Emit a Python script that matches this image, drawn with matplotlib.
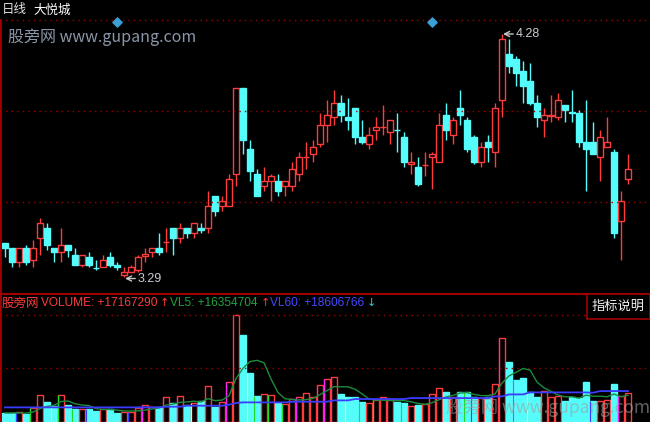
import numpy as np
import pandas as pd
import matplotlib
matplotlib.use('Agg')
import matplotlib.pyplot as plt
from matplotlib.patches import Rectangle
from matplotlib.transforms import blended_transform_factory

plt.rcParams['font.family'] = ['Noto Sans CJK SC', 'DejaVu Sans']

# --- DATA (daily candles) ---
opens = [3.43, 3.41, 3.35, 3.41, 3.36, 3.45, 3.49, 3.41, 3.39, 3.42,
         3.38, 3.34, 3.37, 3.328, 3.33, 3.37, 3.34, 3.30, 3.31, 3.32,
         3.376, 3.39, 3.41, 3.432, 3.49, 3.45, 3.49, 3.47, 3.49, 3.49,
         3.62, 3.58, 3.58, 3.71, 4.06, 3.81, 3.71, 3.66, 3.68, 3.68,
         3.66, 3.66, 3.71, 3.778, 3.79, 3.83, 3.91, 3.94, 4.00, 3.94,
         3.98, 3.86, 3.83, 3.89, 3.900, 3.88, 3.890, 3.86, 3.75, 3.74,
         3.746, 3.78, 3.76, 3.95, 3.87, 3.98, 3.93, 3.86, 3.76, 3.84,
         3.80, 4.01, 4.20, 4.18, 4.13, 4.09, 4.00, 3.93, 3.948, 3.94,
         3.99, 3.962, 3.96, 3.84, 3.84, 3.78, 3.82, 3.80, 3.52, 3.69]
highs = [3.43, 3.41, 3.41, 3.42, 3.44, 3.53, 3.51, 3.41, 3.49, 3.42,
         3.41, 3.38, 3.39, 3.36, 3.38, 3.39, 3.35, 3.33, 3.34, 3.38,
         3.41, 3.41, 3.47, 3.49, 3.49, 3.51, 3.49, 3.51, 3.51, 3.64,
         3.62, 3.62, 3.71, 4.06, 4.06, 3.85, 3.73, 3.74, 3.71, 3.71,
         3.68, 3.76, 3.80, 3.84, 3.85, 3.96, 4.01, 4.05, 4.03, 4.02,
         3.98, 3.93, 3.90, 3.94, 3.99, 3.93, 3.96, 3.88, 3.80, 3.78,
         3.80, 3.80, 3.96, 4.00, 3.94, 4.05, 3.94, 3.87, 3.84, 3.87,
         4.00, 4.28, 4.26, 4.19, 4.17, 4.16, 4.03, 3.98, 4.03, 4.04,
         3.99, 4.05, 3.97, 4.01, 3.92, 3.89, 3.94, 3.81, 3.64, 3.79]
lows = [3.37, 3.33, 3.33, 3.34, 3.33, 3.38, 3.40, 3.35, 3.35, 3.37,
        3.34, 3.33, 3.33, 3.32, 3.33, 3.33, 3.32, 3.29, 3.31, 3.31,
        3.35, 3.37, 3.38, 3.39, 3.38, 3.43, 3.45, 3.45, 3.47, 3.47,
        3.54, 3.56, 3.58, 3.66, 3.79, 3.68, 3.62, 3.64, 3.60, 3.62,
        3.62, 3.64, 3.68, 3.73, 3.76, 3.82, 3.84, 3.91, 3.92, 3.89,
        3.83, 3.83, 3.81, 3.85, 3.87, 3.83, 3.80, 3.74, 3.71, 3.66,
        3.70, 3.65, 3.76, 3.85, 3.83, 3.91, 3.80, 3.75, 3.74, 3.76,
        3.74, 3.94, 4.12, 4.07, 4.00, 3.99, 3.90, 3.86, 3.92, 3.93,
        3.92, 3.92, 3.82, 3.64, 3.79, 3.68, 3.82, 3.45, 3.36, 3.67]
closes = [3.41, 3.35, 3.41, 3.35, 3.41, 3.51, 3.42, 3.39, 3.42, 3.40,
          3.34, 3.38, 3.34, 3.326, 3.36, 3.34, 3.33, 3.31, 3.33, 3.37,
          3.384, 3.41, 3.39, 3.434, 3.45, 3.49, 3.47, 3.51, 3.48, 3.58,
          3.56, 3.60, 3.69, 4.06, 3.85, 3.72, 3.62, 3.68, 3.70, 3.64,
          3.68, 3.73, 3.78, 3.780, 3.82, 3.91, 3.95, 4.00, 3.95, 3.93,
          3.86, 3.84, 3.87, 3.90, 3.902, 3.93, 3.888, 3.76, 3.76, 3.67,
          3.748, 3.79, 3.91, 3.89, 3.93, 3.95, 3.81, 3.76, 3.82, 3.82,
          3.98, 4.26, 4.15, 4.12, 4.07, 4.00, 3.94, 3.95, 3.950, 4.01,
          3.97, 3.960, 3.84, 3.81, 3.79, 3.86, 3.84, 3.47, 3.60, 3.73]

# volume in millions of shares
volume = [5.4, 5.4, 5.8, 4.8, 8.4, 16.0, 11.8, 9.4, 16.0, 10.0,
          7.8, 7.8, 7.8, 6.6, 7.8, 7.8, 5.4, 5.8, 6.2, 8.4,
          10.0, 8.8, 8.8, 14.8, 11.2, 15.4, 10.0, 11.2, 12.4, 21.4,
          9.2, 11.8, 23.8, 64.6, 52.2, 29.4, 15.4, 16.6, 16.0, 11.2,
          10.6, 13.6, 14.8, 17.2, 14.8, 22.0, 25.6, 26.8, 16.6, 14.8,
          14.8, 11.8, 11.2, 13.0, 14.8, 13.6, 11.8, 11.2, 9.4, 10.0,
          10.6, 16.6, 20.2, 17.8, 14.8, 17.8, 17.8, 14.8, 14.2, 14.8,
          22.6, 50.8, 36.0, 25.2, 26.4, 17.8, 14.8, 18.4, 14.8, 15.4,
          12.4, 14.8, 14.2, 23.8, 12.4, 12.4, 13.0, 22.6, 15.4, 17.17]
vl60 = [8.8] * 23 + [9.2] * 3 + [9.8] * 6 + [10.4] + [11.4] + [11.8] * 7 + \
       [12.2] * 6 + [13.0] * 3 + [13.8] * 8 + [14.4] * 12 + [15.4] * 2 + \
       [16.6] * 3 + [17.8] * 9 + [17.6] + [18.6] * 5

# bars whose left edge shows a second colour
accent_idx = [2, 4, 7, 8, 10, 12, 18, 20, 23, 25, 27, 31, 32, 35, 36, 38, 40, 42,
              45, 46, 47, 49, 51, 53, 55, 57, 61, 65, 66, 67, 71, 73, 75, 77, 84, 88]
accent_col = ['b', 'g', 'y', 'g', 'g', 'b', 'b', 'm', 'm', 'm', 'y', 'm', 'm', 'y', 'g', 'g', 'g', 'm',
              'm', 'm', 'm', 'y', 'g', 'g', 'm', 'g', 'm', 'm', 'g', 'b', 'm', 'm', 'y', 'g', 'b', 'm']
event_marks = [16, 61]

# --- STYLE ---
RED = '#ff3c3c'
CYAN = '#54fcfc'
GRID = '#a00000'
ACCENTS = {'b': '#3c3cff', 'g': '#22dd22', 'y': '#ffff40', 'm': '#ff20ff'}
W, H = 650, 422

o = np.array(opens); c = np.array(closes)
hi = np.array(highs); lo = np.array(lows)
vol = np.array(volume)
up = c >= o
n = len(o)
x = np.arange(n)
vl5 = pd.Series(vol).rolling(5, min_periods=1).mean().values

fig = plt.figure(figsize=(W / 100, H / 100), dpi=100, facecolor='black')
ax = fig.add_axes([0, 129 / H, 1, 273 / H], facecolor='black')
axv = fig.add_axes([0, 0, 1, 128 / H], facecolor='black')

xlim = (-5 / 7, (W - 5) / 7)
for a in (ax, axv):
    a.set_xlim(*xlim)
    a.set_xticks([]); a.set_yticks([])
    for s in a.spines.values():
        s.set_visible(False)
    a.spines['left'].set_visible(True)
    a.spines['left'].set_color(GRID)
    a.spines['left'].set_linewidth(2)

# --- price panel ---
ylo, yhi = 3.225, 4.337
ax.set_ylim(ylo, yhi)
for k in (1, 2, 3):
    ax.axhline(ylo + (yhi - ylo) * k / 3, color=GRID, ls=(0, (1, 3)), lw=1, clip_on=False)

bw = 0.72
for i in range(n):
    col = RED if up[i] else CYAN
    b0, b1 = min(o[i], c[i]), max(o[i], c[i])
    ax.vlines(i, lo[i], b0, color=col, lw=1)
    ax.vlines(i, b1, hi[i], color=col, lw=1)
    ax.add_patch(Rectangle((i - bw / 2, b0), bw, b1 - b0,
                           facecolor='black' if up[i] else CYAN, edgecolor=col, lw=1))

imax = int(np.argmax(hi)); imin = int(np.argmin(lo))
ann = dict(arrowstyle='->', color='#c8c8c8', lw=1, shrinkA=0, shrinkB=0)
ax.annotate(f'{hi[imax]:.2f}', xy=(imax + 0.15, hi[imax]), xytext=(imax + 2.0, hi[imax]),
            va='center', ha='left', color='#c8ccd4', fontsize=9, family='Liberation Sans',
            arrowprops=ann)
ax.annotate(f'{lo[imin]:.2f}', xy=(imin + 0.15, lo[imin] - 0.006), xytext=(imin + 2.0, lo[imin] - 0.006),
            va='center', ha='left', color='#c8ccd4', fontsize=9, family='Liberation Sans',
            arrowprops=ann)

tr = blended_transform_factory(ax.transData, ax.transAxes)
ax.scatter(event_marks, [0.992] * len(event_marks), marker='D', s=22, color='#3aa0d8',
           transform=tr, clip_on=False, zorder=5)

fig.text(2 / W, 1 - 10 / H, '日线', color='#e0e0e0', fontsize=9, va='center')
fig.text(33 / W, 1 - 10 / H, '大悦城', color='white', fontsize=9, va='center')
fig.text(8 / W, 1 - 37 / H, '股旁网 www.gupang.com', color='#8a96a8', fontsize=11.5, va='center')

# --- volume panel ---
axv.set_ylim(0, 77)
axv.spines['top'].set_visible(True)
axv.spines['top'].set_color(GRID)
axv.spines['top'].set_linewidth(1.5)
for lvl in (vol.max(), vol.max() / 2):
    axv.axhline(lvl, color=GRID, ls=(0, (1, 3)), lw=1)

for i in range(n):
    if up[i]:
        axv.add_patch(Rectangle((i - bw / 2, 0), bw, vol[i], facecolor='black', edgecolor=RED, lw=1))
    else:
        axv.add_patch(Rectangle((i - bw / 2, 0), bw, vol[i], facecolor=CYAN, edgecolor=CYAN, lw=1))
for i, k in zip(accent_idx, accent_col):
    axv.vlines(i - bw / 2, 0, vol[i], color=ACCENTS[k], lw=0.8)

axv.plot(x, vl5, color='#1c8c3c', lw=1)
axv.plot(x, vl60, color='#3c3cff', lw=1.3)

fig.text(446 / W, 14 / H, '股旁网 www.gupang.com', color='#a0a0a0', alpha=0.6,
         fontsize=12.5, va='center')

hy = 1 - 303 / H
fig.text(2 / W, hy, '股旁网', color=RED, fontsize=9, va='center')
fig.text(41 / W, hy, 'VOLUME: +17167290', color=RED, fontsize=8.6, va='center', family='Liberation Sans')
fig.text(160 / W, hy, '↑', color=RED, fontsize=8, va='center', family='DejaVu Sans')
fig.text(170 / W, hy, 'VL5: +16354704', color='#22a040', fontsize=8.6, va='center', family='Liberation Sans')
fig.text(261 / W, hy, '↑', color=RED, fontsize=8, va='center', family='DejaVu Sans')
fig.text(270 / W, hy, 'VL60: +18606766', color='#4646ff', fontsize=8.6, va='center', family='Liberation Sans')
fig.text(367 / W, hy, '↓', color='#40c0e0', fontsize=8, va='center', family='DejaVu Sans')

fig.patches.append(Rectangle((587 / W, 1 - 319 / H), 63 / W, 25 / H, transform=fig.transFigure,
                             facecolor='black', edgecolor=GRID, lw=1.2))
fig.text(618 / W, 1 - 306 / H, '指标说明', color='#f0f0f0', fontsize=9.5, ha='center', va='center')

plt.savefig('out.png', dpi=100, facecolor='black')
